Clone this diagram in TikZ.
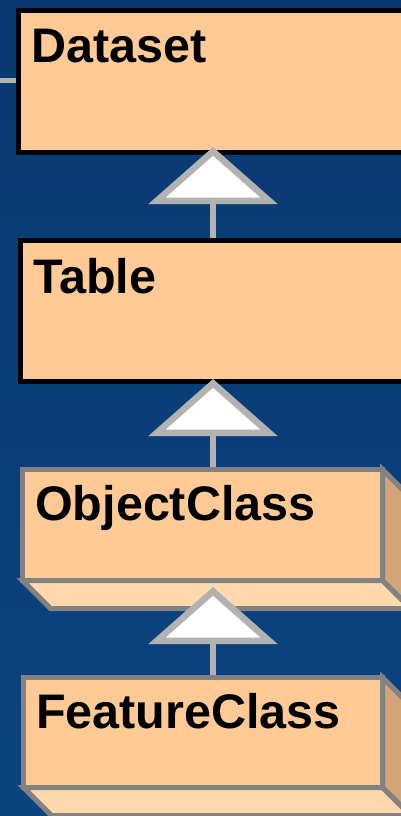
\documentclass[tikz,border=0pt]{standalone}
\usepackage{fontspec}
\setmainfont{Liberation Sans}
\usetikzlibrary{arrows.meta}

\definecolor{bgtop}{HTML}{0A3970}
\definecolor{bgmid}{HTML}{0D4987}
\definecolor{bgbottom}{HTML}{0B4381}
\definecolor{classfill}{HTML}{FFCA96}
\definecolor{basefill}{HTML}{FFD9AC}
\definecolor{sidefill}{HTML}{D2A47A}
\definecolor{boxgray}{HTML}{828282}
\definecolor{linkgray}{HTML}{B2B2B2}

\begin{document}
\begin{tikzpicture}[x=1pt,y=-1pt,
    classbox/.style={draw,line width=5pt,fill=classfill,outer sep=0pt,inner sep=0pt,anchor=north west},
    solidbox/.style={classbox,draw=boxgray},
    face/.style={draw=boxgray,line width=5pt},
    classname/.style={anchor=base west,inner sep=0pt,font=\fontsize{48.5}{52}\selectfont\bfseries},
    link/.style={draw=linkgray,line width=5pt},
    inherit/.style={draw=linkgray,line width=6.5pt,shorten <=2.5pt,
      -{Triangle[open,fill=white,length=57pt,width=128pt]}}]
  \useasboundingbox (0,0) rectangle (401,816);
  \clip (0,0) rectangle (401,816);
  \fill[top color=bgtop,middle color=bgmid,bottom color=bgbottom] (0,0) rectangle (401,816);

  \coordinate (axis) at (213,0);
  \coordinate (offleft) at (-10,80);

  % plain classes
  \node[classbox,minimum width=390pt,minimum height=142pt] (dataset) at (18.5,10.5) {};
  \node[classname] (datasetname) at ([shift={(12.5,52.5)}]dataset.north west) {Dataset};
  \node[classbox,minimum width=386pt,minimum height=141pt] (table) at (20.5,240.5) {};
  \node[classname] (tablename) at ([shift={(12.5,52.5)}]table.north west) {Table};

  % solid classes, with side and base faces
  \node[solidbox,minimum width=360pt,minimum height=111pt] (objectclass) at (22.5,469.5) {};
  \node[classname] (objectclassname) at ([shift={(12.5,51)}]objectclass.north west) {ObjectClass};
  \node[solidbox,minimum width=359pt,minimum height=110pt] (featureclass) at (23.5,677.5) {};
  \node[classname] (featureclassname) at ([shift={(12.5,51)}]featureclass.north west) {FeatureClass};
  \foreach \cls in {objectclass,featureclass} {
    \draw[face,fill=sidefill] (\cls.north east) -- ++(28,28)
      -- ([shift={(28,28)}]\cls.south east) -- (\cls.south east) -- cycle;
    \draw[face,fill=basefill] (\cls.south west) -- ([shift={(28,28)}]\cls.south west)
      -- ([shift={(28,28)}]\cls.south east) -- (\cls.south east) -- cycle;
  }

  % generalisation arrows
  \draw[link,shorten >=2.5pt] (offleft) -- (offleft -| dataset.west);
  \draw[inherit,shorten >=-5.5pt] (table.north -| axis) -- (dataset.south -| axis);
  \draw[inherit,shorten >=-2.5pt] (objectclass.north -| axis) -- (table.south -| axis);
  \draw[inherit,shorten >=6.5pt] (featureclass.north -| axis) -- (objectclass.south -| axis);
\end{tikzpicture}
\end{document}
